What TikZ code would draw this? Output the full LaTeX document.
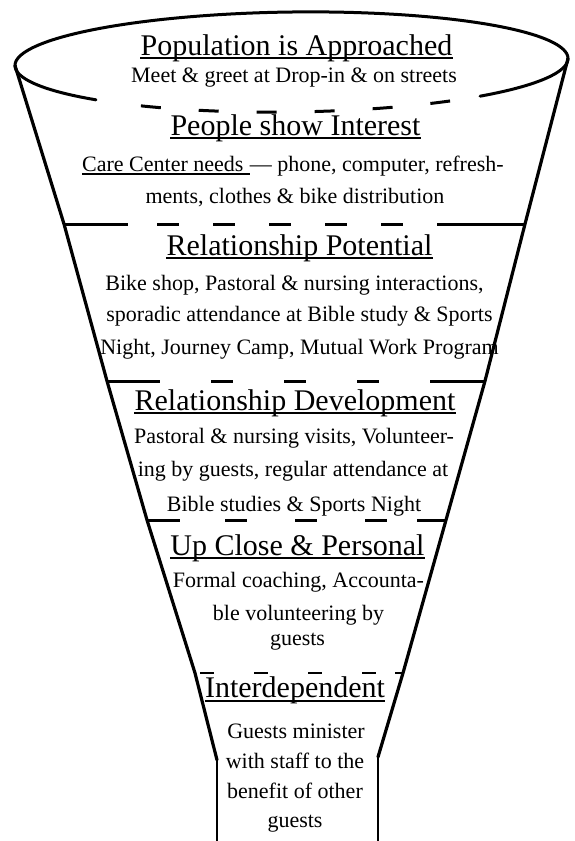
\documentclass[tikz,border=0pt]{standalone}
\usepackage{fontspec}
\setmainfont{Liberation Serif}
\begin{document}
\begin{tikzpicture}[x=1pt,y=-1pt,
  rim/.style={line width=3pt, line cap=round, line join=round},
  rimdash/.style={line width=3pt, dash pattern=on 20pt off 38pt},
  side/.style={line width=3.2pt, line join=round, line cap=round},
  stem/.style={line width=2.2pt},
  divsolid/.style={line width=3pt},
  divdash/.style={line width=3pt},
  title/.style={font=\fontsize{30}{30}\selectfont, inner sep=0pt, anchor=base},
  body/.style={font=\fontsize{22}{22}\selectfont, inner sep=0pt, anchor=base},
  uline/.style={line width=1.3pt}]
\useasboundingbox (0,0) rectangle (574,841);
\fill[white] (0,0) rectangle (574,841);

% ---------- texts ----------
\node[title] (h1) at (296.5,55) {Population is Approached};
\node[body] (b1) at (294,82) {Meet \& greet at Drop-in \& on streets};

\node[title] (h2) at (295.5,135) {People show Interest};
\node[body, anchor=base west] (b2u) at (82,171) {Care Center needs\kern6pt\null};
\node[body, anchor=base west] (b2a) at (b2u.base east) {— phone, computer, refresh-};
\node[body] (b2b) at (295,203) {ments, clothes \& bike distribution};

\node[title] (h3) at (299.5,255) {Relationship Potential};
\node[body] (b3a) at (294.5,290) {Bike shop, Pastoral \& nursing interactions,};
\node[body] (b3b) at (299.5,321) {sporadic attendance at Bible study \& Sports};
\node[body] (b3c) at (299.5,354) {Night, Journey Camp, Mutual Work Program};

\node[title] (h4) at (295,410) {Relationship Development};
\node[body] (b4a) at (294,443) {Pastoral \& nursing visits, Volunteer-};
\node[body] (b4b) at (293,476) {ing by guests, regular attendance at};
\node[body] (b4c) at (294,511) {Bible studies \& Sports Night};

\node[title] (h5) at (297.5,555) {Up Close \& Personal};
\node[body] (b5a) at (298.5,587) {Formal coaching, Accounta-};
\node[body] (b5b) at (298.5,620) {ble volunteering by};
\node[body] (b5c) at (297.5,645) {guests};

\node[title] (h6) at (295,697) {Interdependent};
\node[body] (b6a) at (296,738) {Guests minister};
\node[body] (b6b) at (295,768) {with staff to the};
\node[body] (b6c) at (295,798) {benefit of other};
\node[body] (b6d) at (295,827) {guests};

% underlines
\draw[uline] ([yshift=-3pt]h1.base west) -- ([yshift=-3pt]h1.base east);
\draw[uline] ([yshift=-3pt]h2.base west) -- ([yshift=-3pt]h2.base east);
\draw[uline] ([yshift=-3pt]b2u.base west) -- ([yshift=-3pt]b2u.base east);
\draw[uline] ([yshift=-3pt]h3.base west) -- ([yshift=-3pt]h3.base east);
\draw[uline] ([yshift=-3pt]h4.base west) -- ([yshift=-3pt]h4.base east);
\draw[uline] ([yshift=-3pt]h5.base west) -- ([yshift=-3pt]h5.base east);
\draw[uline] ([yshift=-4pt]h6.base west) -- ([yshift=-4pt]h6.base east);

% ---------- funnel points ----------
\coordinate (L0) at (15,65.5);
\coordinate (L1) at (64,224);
\coordinate (L2) at (107,381);
\coordinate (L3) at (147,520);
\coordinate (L4) at (195,673);
\coordinate (L5) at (217,760);
\coordinate (L6) at (217,841);
\coordinate (R0) at (568,58.5);
\coordinate (R1) at (525,224);
\coordinate (R2) at (485,381);
\coordinate (R3) at (446,520);
\coordinate (R4) at (403,673);
\coordinate (R5) at (378,757);
\coordinate (R6) at (378,841);

% rim (ellipse)
\draw[rim] plot[domain=180:360, samples=90] ({291.5+276.5*cos(\x)},{62+50*sin(\x)-3.5*cos(\x)});
\draw[rim] plot[domain=180:135, samples=30] ({291.5+276.5*cos(\x)},{62+50*sin(\x)-3.5*cos(\x)});
\draw[rim] plot[domain=47:0, samples=30] ({291.5+276.5*cos(\x)},{62+50*sin(\x)-3.5*cos(\x)});
\draw[rimdash] plot[domain=123:55, samples=60] ({291.5+276.5*cos(\x)},{62+50*sin(\x)-3.5*cos(\x)});

% sides
\draw[side] (L0) -- (L1) -- (L2) -- (L3) -- (L4) -- (L5);
\draw[stem] (L5) -- (L6);
\draw[side] (R0) -- (R1) -- (R2) -- (R3) -- (R4) -- (R5);
\draw[stem, line width=2.8pt] (R5) -- (R6);

% dividers
\draw[divsolid] (L1) -- (128,224);
\draw[divdash, dash pattern=on 22pt off 34pt] (157,224) -- (450,224);
\draw[divsolid] (450,224) -- (R1);

\draw[divsolid] (L2) -- (160,381);
\draw[divdash, dash pattern=on 22pt off 51pt] (211,381) -- (436,381);
\draw[divsolid] (436,381) -- (R2);

\draw[divsolid] (L3) -- (180,520);
\draw[divdash, dash pattern=on 22pt off 48pt] (225,520) -- (417,520);
\draw[divsolid] (417,520) -- (R3);

\draw[divdash, line width=2.2pt, dash pattern=on 14pt off 40pt] (200,673) -- (380,673);
\draw[divsolid, line width=2.2pt] (395,673) -- (R4);
\end{tikzpicture}
\end{document}
